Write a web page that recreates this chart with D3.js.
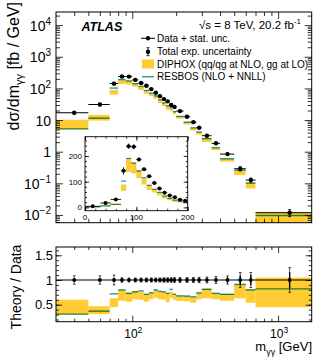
<!DOCTYPE html>
<html>
<head>
<meta charset="utf-8">
<script src="https://cdn.jsdelivr.net/npm/d3@7"></script>
<style>
  body { margin: 0; background: #fff; }
  svg { display: block; font-family: "Liberation Sans", Arial, sans-serif; }
</style>
</head>
<body>
<svg id="chart" width="332" height="360"></svg>
<script>
// bin edges in m_yy [GeV]
const massEdges = [0, 30, 50, 70, 80, 90, 100, 110, 120, 130, 140, 150, 160, 170, 180, 190, 200,
  225, 250, 275, 300, 350, 400, 500, 600, 700, 1700];
// measured dsigma/dm [fb/GeV]
const xsecData = [4, 17, 31, 142, 238, 236, 186, 148, 121, 95, 73, 57, 46, 39, 30, 26,
  19.2, 12.7, 8.6, 5.7, 3.2, 1.84, 0.84, 0.29, 0.127, 0.0118];
// relative uncertainties
const totUnc = [0.1, 0.085, 0.085, 0.1, 0.045, 0.04, 0.04, 0.04, 0.04, 0.04, 0.04, 0.04, 0.045, 0.045, 0.045, 0.05,
  0.05, 0.05, 0.05, 0.055, 0.06, 0.07, 0.08, 0.15, 0.15, 0.25];
const statUnc = [0.03, 0.02, 0.02, 0.015, 0.01, 0.01, 0.01, 0.01, 0.01, 0.012, 0.014, 0.015, 0.017, 0.02, 0.02, 0.022,
  0.02, 0.025, 0.03, 0.035, 0.035, 0.045, 0.05, 0.09, 0.1, 0.16];
// theory / data
const diphoxLo = [0.3, 0.30, 0.31, 0.45, 0.58, 0.56, 0.61, 0.60, 0.56, 0.61, 0.64, 0.61, 0.60, 0.55, 0.64, 0.60,
  0.58, 0.57, 0.54, 0.61, 0.63, 0.61, 0.58, 0.63, 0.54, 0.45];
const diphoxHi = [0.6, 0.60, 0.47, 0.63, 0.80, 0.74, 0.78, 0.76, 0.71, 0.74, 0.80, 0.76, 0.76, 0.73, 0.76, 0.71,
  0.68, 0.68, 0.65, 0.74, 0.83, 0.73, 0.72, 0.91, 0.81, 1.05];
const resbosRatio = [0.45, 0.31, 0.37, 0.72, 0.80, 0.73, 0.76, 0.78, 0.71, 0.74, 0.80, 0.77, 0.76, 0.73, 0.81, 0.71,
  0.68, 0.675, 0.66, 0.74, 0.81, 0.73, 0.71, 0.91, 0.80, 0.82];

const yPowers = [-2, -1, 0, 1, 2, 3, 4];
const ratioTicks = [0.5, 1, 1.5];
const insetTicks = [0, 100, 200];

const YELLOW = "#ffcc33", TEAL = "#2e9a98";
const svg = d3.select("#chart");
const L = 56, R = 311.7;
const mainTop = 12, mainBot = 222.7, ratTop = 247, ratBot = 321.7;

const x = d3.scaleLog().domain([30, 1700]).range([L, R]);
const y = d3.scaleLog().domain([5.7e-3, 2.6e4]).range([mainBot, mainTop]);
const yr = d3.scaleLinear().domain([0.156, 1.668]).range([ratBot, ratTop]);
const xi = d3.scaleLinear().domain([0, 200]).range([85, 187.7]);
const yi = d3.scaleLinear().domain([-13, 275]).range([210.7, 136.7]);

const bins = xsecData.map((v, i) => ({
  lo: massEdges[i], hi: massEdges[i + 1], v,
  tot: totUnc[i], stat: statUnc[i],
  dLo: diphoxLo[i], dHi: diphoxHi[i], rb: resbosRatio[i]
}));
const vis = bins.filter(b => b.hi > 30);
const clo = b => Math.max(b.lo, 30);
const cx = b => (clo(b) + b.hi) / 2;

const defs = svg.append("defs");
defs.append("clipPath").attr("id", "clipMain").append("rect")
  .attr("x", L).attr("y", mainTop).attr("width", R - L).attr("height", mainBot - mainTop);
defs.append("clipPath").attr("id", "clipRat").append("rect")
  .attr("x", L).attr("y", ratTop).attr("width", R - L).attr("height", ratBot - ratTop);
defs.append("clipPath").attr("id", "clipIns").append("rect")
  .attr("x", 85).attr("y", 136.7).attr("width", 102.7).attr("height", 74);

// minor tick helpers
function logMinor(lo, hi) {
  const out = [];
  for (let p = Math.floor(Math.log10(lo)); p <= Math.ceil(Math.log10(hi)); p++)
    for (let k = 2; k <= 9; k++) { const v = k * Math.pow(10, p); if (v > lo && v < hi) out.push(v); }
  return out;
}
const xMajor = [100, 1000];
const xMinor = logMinor(30, 1700);
const yMajor = yPowers.map(p => Math.pow(10, p));
const yMinor = logMinor(5.7e-3, 2.6e4);

function ticks(g, axis, vals, size) {
  g.call(axis.tickValues(vals).tickSize(size).tickFormat(""))
    .call(s => s.select(".domain").remove())
    .call(s => s.selectAll("line").attr("stroke", "#000").attr("stroke-width", 0.8));
}

// ---------- main panel ----------
const gm = svg.append("g").attr("clip-path", "url(#clipMain)");
gm.selectAll(".band").data(vis).join("rect")
  .attr("x", b => x(clo(b))).attr("width", b => x(b.hi) - x(clo(b)))
  .attr("y", b => y(b.v * b.dHi)).attr("height", b => y(b.v * b.dLo) - y(b.v * b.dHi))
  .attr("fill", YELLOW);
gm.selectAll(".rb").data(vis).join("line")
  .attr("x1", b => x(clo(b))).attr("x2", b => x(b.hi))
  .attr("y1", b => y(b.v * b.rb)).attr("y2", b => y(b.v * b.rb))
  .attr("stroke", TEAL).attr("stroke-width", 1.4).style("mix-blend-mode", "multiply");
gm.selectAll(".hbar").data(vis).join("line")
  .attr("x1", b => x(clo(b))).attr("x2", b => x(b.hi))
  .attr("y1", b => y(b.v)).attr("y2", b => y(b.v))
  .attr("stroke", "#000").attr("stroke-width", 1);
gm.selectAll(".vbar").data(vis).join("path")
  .attr("d", b => {
    const X = x(cx(b)), y1 = y(b.v * (1 + b.tot)), y2 = y(b.v * (1 - b.tot));
    return `M${X},${y1}V${y2}M${X - 1.5},${y1}H${X + 1.5}M${X - 1.5},${y2}H${X + 1.5}`;
  })
  .attr("stroke", "#000").attr("stroke-width", 0.8).attr("fill", "none");
gm.selectAll(".pt").data(vis).join("circle")
  .attr("cx", b => x(cx(b))).attr("cy", b => y(b.v)).attr("r", 2.2).attr("fill", "#000");

svg.append("rect").attr("x", L).attr("y", mainTop).attr("width", R - L).attr("height", mainBot - mainTop)
  .attr("fill", "none").attr("stroke", "#000").attr("stroke-width", 1);
ticks(svg.append("g").attr("transform", `translate(0,${mainBot})`), d3.axisBottom(x), xMajor, -7);
ticks(svg.append("g").attr("transform", `translate(0,${mainBot})`), d3.axisBottom(x), xMinor, -4);
ticks(svg.append("g").attr("transform", `translate(0,${mainTop})`), d3.axisTop(x), xMajor, -7);
ticks(svg.append("g").attr("transform", `translate(0,${mainTop})`), d3.axisTop(x), xMinor, -4);
ticks(svg.append("g").attr("transform", `translate(${L},0)`), d3.axisLeft(y), yMajor, -7);
ticks(svg.append("g").attr("transform", `translate(${L},0)`), d3.axisLeft(y), yMinor, -4);
ticks(svg.append("g").attr("transform", `translate(${R},0)`), d3.axisRight(y), yMajor, -7);
ticks(svg.append("g").attr("transform", `translate(${R},0)`), d3.axisRight(y), yMinor, -4);

yPowers.forEach(p => {
  const t = svg.append("text").attr("x", 51).attr("y", y(Math.pow(10, p)) + 5.5)
    .attr("text-anchor", "end").attr("font-size", 14);
  if (p === 0) t.text("1");
  else if (p === 1) t.text("10");
  else {
    t.append("tspan").text("10");
    t.append("tspan").attr("dy", -6).attr("font-size", 10).text(p < 0 ? "\u2212" + (-p) : p);
  }
});

// ---------- inset ----------
const insBins = bins.filter(b => b.hi <= 200);
svg.append("rect").attr("x", 85).attr("y", 136.7).attr("width", 102.7).attr("height", 74)
  .attr("fill", "#fff");
const gi = svg.append("g").attr("clip-path", "url(#clipIns)");
gi.selectAll(".band").data(insBins).join("rect")
  .attr("x", b => xi(b.lo)).attr("width", b => xi(b.hi) - xi(b.lo))
  .attr("y", b => yi(b.v * b.dHi)).attr("height", b => yi(b.v * b.dLo) - yi(b.v * b.dHi))
  .attr("fill", YELLOW);
gi.selectAll(".rb").data(insBins).join("line")
  .attr("x1", b => xi(b.lo)).attr("x2", b => xi(b.hi))
  .attr("y1", b => yi(b.v * b.rb)).attr("y2", b => yi(b.v * b.rb))
  .attr("stroke", TEAL).attr("stroke-width", 1.2).style("mix-blend-mode", "multiply");
gi.selectAll(".hbar").data(insBins).join("line")
  .attr("x1", b => xi(b.lo)).attr("x2", b => xi(b.hi))
  .attr("y1", b => yi(b.v)).attr("y2", b => yi(b.v))
  .attr("stroke", "#000").attr("stroke-width", 0.9);
gi.selectAll(".vbar").data(insBins).join("line")
  .attr("x1", b => xi((b.lo + b.hi) / 2)).attr("x2", b => xi((b.lo + b.hi) / 2))
  .attr("y1", b => yi(b.v * (1 + b.tot))).attr("y2", b => yi(b.v * (1 - b.tot)))
  .attr("stroke", "#000").attr("stroke-width", 0.8);
gi.selectAll(".pt").data(insBins).join("circle")
  .attr("cx", b => xi((b.lo + b.hi) / 2)).attr("cy", b => yi(b.v)).attr("r", 2).attr("fill", "#000");
svg.append("rect").attr("x", 85).attr("y", 136.7).attr("width", 102.7).attr("height", 74)
  .attr("fill", "none").attr("stroke", "#000").attr("stroke-width", 0.9);
const insMinor = d3.range(0, 201, 20);
const insYMinor = d3.range(0, 261, 20);
ticks(svg.append("g").attr("transform", "translate(0,210.7)"), d3.axisBottom(xi), insTicksX(), -4);
function insTicksX() { return insetTicks; }
ticks(svg.append("g").attr("transform", "translate(0,210.7)"), d3.axisBottom(xi), insMinor, -2);
ticks(svg.append("g").attr("transform", "translate(0,136.7)"), d3.axisTop(xi), insetTicks, -4);
ticks(svg.append("g").attr("transform", "translate(0,136.7)"), d3.axisTop(xi), insMinor, -2);
ticks(svg.append("g").attr("transform", "translate(85,0)"), d3.axisLeft(yi), insetTicks, -4);
ticks(svg.append("g").attr("transform", "translate(85,0)"), d3.axisLeft(yi), insYMinor, -2);
ticks(svg.append("g").attr("transform", "translate(187.7,0)"), d3.axisRight(yi), insetTicks, -4);
ticks(svg.append("g").attr("transform", "translate(187.7,0)"), d3.axisRight(yi), insYMinor, -2);
insetTicks.forEach(v => {
  svg.append("text").attr("x", xi(v)).attr("y", 220).attr("text-anchor", "middle")
    .attr("font-size", 8).text(v);
  svg.append("text").attr("x", 82).attr("y", yi(v) + 3).attr("text-anchor", "end")
    .attr("font-size", 8).text(v);
});

// ---------- labels & legend ----------
svg.append("text").attr("x", 81.5).attr("y", 30.5).attr("font-size", 12.5)
  .attr("font-weight", "bold").attr("font-style", "italic").text("ATLAS");
const sq = svg.append("text").attr("x", 301).attr("y", 29).attr("text-anchor", "end").attr("font-size", 11.5);
sq.append("tspan").text("\u221As = 8 TeV, 20.2 fb");
sq.append("tspan").attr("dy", -5).attr("font-size", 8).text("-1");

const legX = 148, legTx = 157;
const legY = [38.3, 51.7, 64, 76.7];
const legText = ["Data + stat. unc.", "Total exp. uncertainty", "DIPHOX (qq/qg at NLO, gg at LO)", "RESBOS (NLO + NNLL)"];
legText.forEach((t, i) => svg.append("text").attr("x", legTx).attr("y", legY[i] + 3.5)
  .attr("font-size", 10).text(t));
svg.append("line").attr("x1", legX - 7).attr("x2", legX + 7).attr("y1", legY[0]).attr("y2", legY[0])
  .attr("stroke", "#000").attr("stroke-width", 1);
svg.append("circle").attr("cx", legX).attr("cy", legY[0]).attr("r", 2.2);
svg.append("path").attr("d", `M${legX},${legY[1] - 4}V${legY[1] + 4}M${legX - 1.5},${legY[1] - 4}H${legX + 1.5}M${legX - 1.5},${legY[1] + 4}H${legX + 1.5}`)
  .attr("stroke", "#000").attr("stroke-width", 0.8);
svg.append("circle").attr("cx", legX).attr("cy", legY[1]).attr("r", 2.2);
svg.append("rect").attr("x", legX - 6).attr("y", legY[2] - 4.5).attr("width", 12).attr("height", 9).attr("fill", YELLOW);
svg.append("line").attr("x1", legX - 6).attr("x2", legX + 6).attr("y1", legY[3]).attr("y2", legY[3])
  .attr("stroke", TEAL).attr("stroke-width", 1.4);

const yt = svg.append("text").attr("transform", "translate(19,2) rotate(-90)")
  .attr("text-anchor", "end").attr("font-size", 16);
yt.append("tspan").text("d\u03C3/dm");
yt.append("tspan").attr("dy", 4).attr("font-size", 11).text("\u03B3\u03B3");
yt.append("tspan").attr("dy", -4).text(" [fb / GeV]");

// ---------- ratio panel ----------
const gr = svg.append("g").attr("clip-path", "url(#clipRat)");
gr.selectAll(".band").data(vis).join("rect")
  .attr("x", b => x(clo(b))).attr("width", b => x(b.hi) - x(clo(b)))
  .attr("y", b => yr(b.dHi)).attr("height", b => yr(b.dLo) - yr(b.dHi))
  .attr("fill", YELLOW);
gr.selectAll(".rb").data(vis).join("line")
  .attr("x1", b => x(clo(b))).attr("x2", b => x(b.hi))
  .attr("y1", b => yr(b.rb)).attr("y2", b => yr(b.rb))
  .attr("stroke", TEAL).attr("stroke-width", 1.4).style("mix-blend-mode", "multiply");
gr.append("line").attr("x1", L).attr("x2", R).attr("y1", yr(1)).attr("y2", yr(1))
  .attr("stroke", "#000").attr("stroke-width", 1);
gr.selectAll(".tot").data(vis).join("path")
  .attr("d", b => {
    const X = x(cx(b)), y1 = yr(1 + b.tot), y2 = yr(1 - b.tot);
    return `M${X},${y1}V${y2}M${X - 1.3},${y1}H${X + 1.3}M${X - 1.3},${y2}H${X + 1.3}`;
  })
  .attr("stroke", "#000").attr("stroke-width", 0.7).attr("fill", "none");
gr.selectAll(".st").data(vis).join("line")
  .attr("x1", b => x(cx(b))).attr("x2", b => x(cx(b)))
  .attr("y1", b => yr(1 + b.stat)).attr("y2", b => yr(1 - b.stat))
  .attr("stroke", "#000").attr("stroke-width", 1.4);
gr.selectAll(".pt").data(vis).join("circle")
  .attr("cx", b => x(cx(b))).attr("cy", yr(1)).attr("r", 1.9).attr("fill", "#000");

svg.append("rect").attr("x", L).attr("y", ratTop).attr("width", R - L).attr("height", ratBot - ratTop)
  .attr("fill", "none").attr("stroke", "#000").attr("stroke-width", 1);
const rMinor = d3.range(0.2, 1.67, 0.1).map(v => +v.toFixed(1));
ticks(svg.append("g").attr("transform", `translate(0,${ratBot})`), d3.axisBottom(x), xMajor, -6);
ticks(svg.append("g").attr("transform", `translate(0,${ratBot})`), d3.axisBottom(x), xMinor, -3);
ticks(svg.append("g").attr("transform", `translate(0,${ratTop})`), d3.axisTop(x), xMajor, -6);
ticks(svg.append("g").attr("transform", `translate(0,${ratTop})`), d3.axisTop(x), xMinor, -3);
ticks(svg.append("g").attr("transform", `translate(${L},0)`), d3.axisLeft(yr), ratioTicks, -6);
ticks(svg.append("g").attr("transform", `translate(${L},0)`), d3.axisLeft(yr), rMinor, -3);
ticks(svg.append("g").attr("transform", `translate(${R},0)`), d3.axisRight(yr), ratioTicks, -6);
ticks(svg.append("g").attr("transform", `translate(${R},0)`), d3.axisRight(yr), rMinor, -3);

ratioTicks.forEach(v => svg.append("text").attr("x", 53).attr("y", yr(v) + 4.5)
  .attr("text-anchor", "end").attr("font-size", 13).text(v));
xMajor.forEach(v => {
  const t = svg.append("text").attr("x", x(v) + 1).attr("y", 338).attr("text-anchor", "middle").attr("font-size", 12);
  t.append("tspan").text("10");
  t.append("tspan").attr("dy", -5).attr("font-size", 8.5).text(Math.round(Math.log10(v)));
});

const xt = svg.append("text").attr("x", 312).attr("y", 351).attr("text-anchor", "end").attr("font-size", 13);
xt.append("tspan").text("m");
xt.append("tspan").attr("dy", 3.5).attr("font-size", 9).text("\u03B3\u03B3");
xt.append("tspan").attr("dy", -3.5).text(" [GeV]");

svg.append("text").attr("transform", "translate(21,287) rotate(-90)")
  .attr("text-anchor", "middle").attr("font-size", 14).text("Theory / Data");
</script>
</body>
</html>
